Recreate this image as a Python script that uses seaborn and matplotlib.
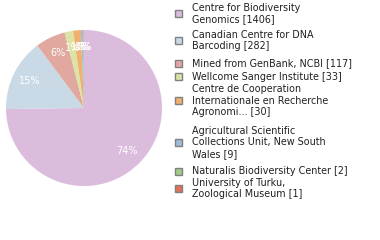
import numpy as np
import matplotlib
matplotlib.use("Agg")
import matplotlib.pyplot as plt
import seaborn as sns
from matplotlib.patches import Rectangle

labels = [
    "Centre for Biodiversity\nGenomics [1406]",
    "Canadian Centre for DNA\nBarcoding [282]",
    "Mined from GenBank, NCBI [117]",
    "Wellcome Sanger Institute [33]",
    "Centre de Cooperation\nInternationale en Recherche\nAgronomi... [30]",
    "Agricultural Scientific\nCollections Unit, New South\nWales [9]",
    "Naturalis Biodiversity Center [2]",
    "University of Turku,\nZoological Museum [1]",
]
counts = [1406, 282, 117, 33, 30, 9, 2, 1]
colors = ["#dcbcdc", "#c9d9e5", "#e0a89e", "#dbe4a4", "#f0b070",
          "#a0bcdc", "#a0cc88", "#e07058"]

sns.set_style("white")
palette = sns.color_palette(colors)

W, H = 380, 240
fig = plt.figure(figsize=(W / 100, H / 100), dpi=100)

cx, cy, r = 84, 108, 78
ax = fig.add_axes([(cx - r) / W, (H - cy - r) / H, 2 * r / W, 2 * r / H])
wedges, texts, autotexts = ax.pie(
    counts, colors=palette, startangle=90, counterclock=False,
    autopct=lambda p: f"{int(p)}%", pctdistance=0.78,
    textprops=dict(color="white", fontsize=7),
    wedgeprops=dict(linewidth=0),
)
ax.set_xlim(-1, 1)
ax.set_ylim(-1, 1)
ax.axis("off")

# legend
sq_centers = [13.5, 40.5, 63.5, 76.5, 100.5, 142.5, 171.5, 188.5]
for lab, col, yc in zip(labels, palette, sq_centers):
    s = 7
    fig.patches.append(Rectangle(((174.5) / W, (H - yc - s / 2) / H), s / W, s / H,
                                 transform=fig.transFigure, facecolor=col,
                                 edgecolor="#808080", linewidth=1))
    fig.text(192 / W, (H - yc) / H, lab, ha="left", va="center",
             fontsize=6.9, color="#202020", linespacing=1.18)

fig.savefig("out.png", dpi=100)
